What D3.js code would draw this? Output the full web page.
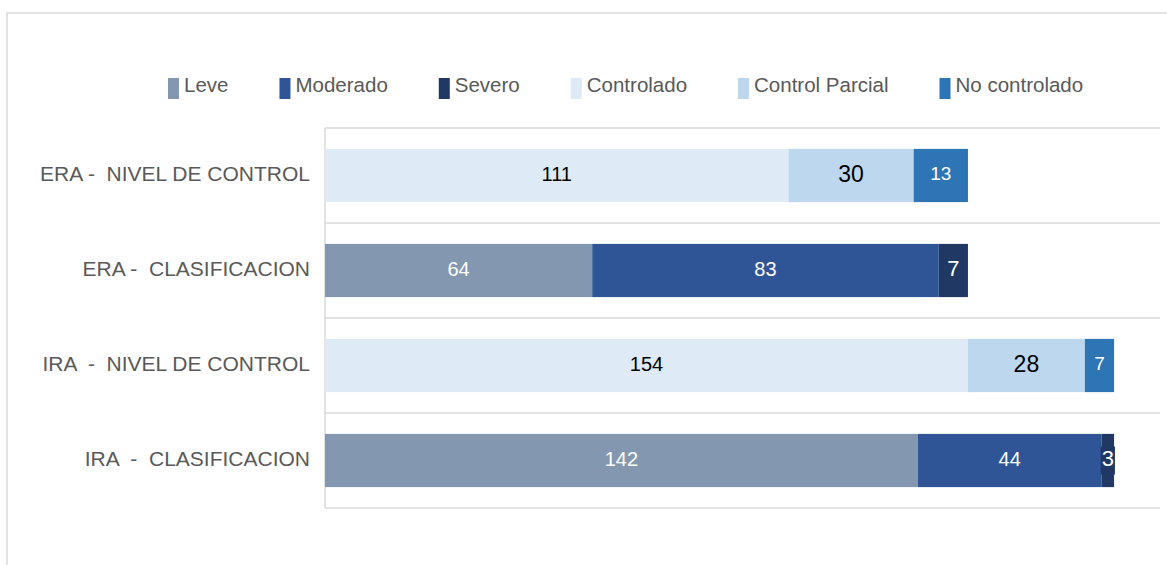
<!DOCTYPE html>
<html>
<head>
<meta charset="utf-8">
<script src="https://cdn.jsdelivr.net/npm/d3@7/dist/d3.min.js"></script>
<style>
  html, body { margin: 0; padding: 0; background: #fff; }
  svg { display: block; font-family: "Liberation Sans", Arial, sans-serif; }
  text { white-space: pre; }
</style>
</head>
<body>
<svg id="chart" width="1167" height="565"></svg>
<script>
// Categories shown on the vertical axis, top to bottom
const categories = [
  "ERA -  NIVEL DE CONTROL",
  "ERA -  CLASIFICACION",
  "IRA  -  NIVEL DE CONTROL",
  "IRA  -  CLASIFICACION"
];

// Series names (legend order = stacking order)
const seriesNames = ["Leve", "Moderado", "Severo", "Controlado", "Control Parcial", "No controlado"];

// Values per series, one entry per category
const leve           = [0, 64, 0, 142];
const moderado       = [0, 83, 0, 44];
const severo         = [0, 7, 0, 3];
const controlado     = [111, 0, 154, 0];
const controlParcial = [30, 0, 28, 0];
const noControlado   = [13, 0, 7, 0];

const seriesColors = ["#8497B0", "#2F5597", "#203864", "#DEEBF7", "#BDD7EE", "#2E75B6"];
const labelColors  = ["#fff", "#fff", "#fff", "#000", "#000", "#fff"];
const labelSizes   = [20, 20, 22, 20, 23, 19];

const seriesValues = [leve, moderado, severo, controlado, controlParcial, noControlado];

// Build a row per category for d3.stack
const rows = categories.map((c, i) => {
  const r = { category: c };
  seriesNames.forEach((s, j) => { r[s] = seriesValues[j][i]; });
  return r;
});

const svg = d3.select("#chart");
const gridColor = "#d9d9d9";
const textGray = "#595959";

// Outer chart frame
svg.append("rect")
  .attr("x", 7).attr("y", 13)
  .attr("width", 1300).attr("height", 700)
  .attr("fill", "none")
  .attr("stroke", gridColor)
  .attr("stroke-width", 1.5);

const plot = { left: 325, right: 1160, top: 128, bottom: 508 };

const x = d3.scaleLinear().domain([0, 200]).range([plot.left, plot.right]);
const y = d3.scaleBand().domain(categories)
  .range([plot.top, plot.bottom])
  .paddingInner(0.44).paddingOuter(0.22);

// Horizontal separators between categories
const gap = (y.step() - y.bandwidth()) / 2;
const sepY = categories.map(c => y(c) - gap).concat([plot.bottom]);
svg.append("g").selectAll("line").data(sepY).join("line")
  .attr("x1", plot.left).attr("x2", plot.right)
  .attr("y1", d => d).attr("y2", d => d)
  .attr("stroke", gridColor).attr("stroke-width", 1.5);

// Category axis line
svg.append("line")
  .attr("x1", plot.left).attr("x2", plot.left)
  .attr("y1", plot.top).attr("y2", plot.bottom)
  .attr("stroke", gridColor).attr("stroke-width", 1.5);

// Stacked bars
const stacked = d3.stack().keys(seriesNames)(rows);

const layers = svg.append("g").selectAll("g").data(stacked).join("g")
  .attr("fill", (d, i) => seriesColors[i]);

layers.selectAll("rect").data(d => d.filter(p => p[1] - p[0] > 0)).join("rect")
  .attr("x", d => x(d[0]))
  .attr("y", d => y(d.data.category))
  .attr("width", d => x(d[1]) - x(d[0]))
  .attr("height", y.bandwidth());

// Value labels centred in each segment
const labels = svg.append("g");
stacked.forEach((layer, i) => {
  layer.forEach(p => {
    const v = p[1] - p[0];
    if (v <= 0) return;
    const fs = labelSizes[i];
    const cx = (x(p[0]) + x(p[1])) / 2;
    const cy = y(p.data.category) + y.bandwidth() / 2;
    const t = labels.append("text")
      .attr("x", cx)
      .attr("y", cy + fs * 0.36 - 2)
      .attr("text-anchor", "middle")
      .attr("font-size", fs)
      .attr("fill", labelColors[i])
      .text(v);
    // Labels wider than their segment get a backing box in the series colour
    const w = t.node().getComputedTextLength();
    const segW = x(p[1]) - x(p[0]);
    if (w + 2 > segW) {
      labels.insert("rect", () => t.node())
        .attr("x", cx - w / 2 - 1)
        .attr("y", cy - 15 + 1)
        .attr("width", w + 2)
        .attr("height", 28)
        .attr("fill", seriesColors[i]);
    }
  });
});

// Category labels
svg.append("g").selectAll("text").data(categories).join("text")
  .attr("x", 310)
  .attr("y", d => y(d) + y.bandwidth() / 2 + 21 * 0.36 - 2)
  .attr("text-anchor", "end")
  .attr("font-size", 21)
  .attr("fill", textGray)
  .text(d => d);

// Legend
const legend = svg.append("g");
let lx = 168;
seriesNames.forEach((s, i) => {
  legend.append("rect")
    .attr("x", lx).attr("y", 78)
    .attr("width", 11).attr("height", 21)
    .attr("fill", seriesColors[i]);
  const t = legend.append("text")
    .attr("x", lx + 16).attr("y", 92)
    .attr("font-size", 20.5)
    .attr("fill", textGray)
    .text(s);
  lx += 16 + t.node().getComputedTextLength() + 51;
});
</script>
</body>
</html>
